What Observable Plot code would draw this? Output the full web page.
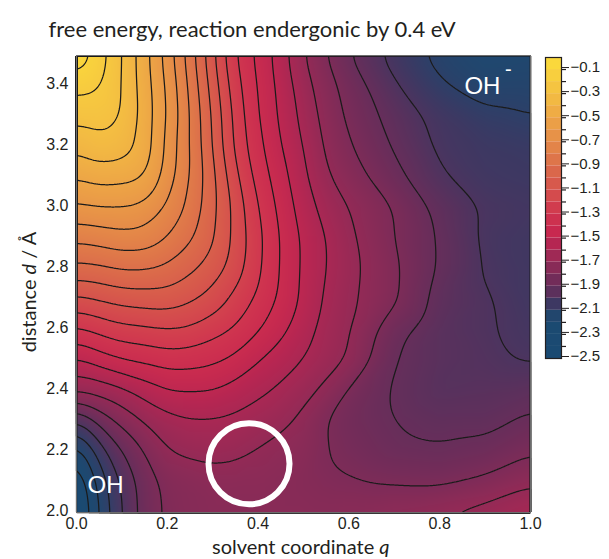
<!DOCTYPE html>
<html><head><meta charset="utf-8">
<script src="https://cdn.jsdelivr.net/npm/d3@7"></script>
<script src="https://cdn.jsdelivr.net/npm/@observablehq/plot@0.6"></script>
<style>
body{margin:0;background:#fff;}
#wrap{position:relative;width:609px;height:559px;overflow:hidden;background:#fff;}
#wrap svg{position:absolute;top:0;}
.lbl{position:absolute;font-family:Lato,"Open Sans",sans-serif;color:#231f20;white-space:nowrap;line-height:1;}
</style></head><body><div id="wrap"></div>
<script>
// solvent coordinate q (columns) and distance d in Å (rows, top to bottom)
const qValues = [0, 0.05, 0.1, 0.15, 0.2, 0.25, 0.3, 0.35, 0.4, 0.45, 0.5, 0.55, 0.6, 0.7, 0.8, 0.9, 1.0];
const dValues = [3.5, 3.4, 3.3, 3.2, 3.1, 3.0, 2.9, 2.8, 2.7, 2.6, 2.5, 2.4, 2.3, 2.2, 2.1, 2.0];
// free energy (eV), one row per d value
const energy = [
  [-0.01,-0.15,-0.30,-0.46,-0.64,-0.85,-1.075,-1.31,-1.425,-1.55,-1.70,-1.80,-1.90,-2.04,-2.13,-2.18,-2.17],
  [-0.17,-0.19,-0.30,-0.45,-0.61,-0.82,-1.04,-1.27,-1.41,-1.53,-1.66,-1.76,-1.84,-1.99,-2.09,-2.14,-2.13],
  [-0.27,-0.26,-0.29,-0.44,-0.60,-0.80,-1.01,-1.24,-1.40,-1.52,-1.63,-1.74,-1.82,-1.94,-2.03,-2.08,-2.10],
  [-0.38,-0.32,-0.35,-0.43,-0.63,-0.80,-1.00,-1.23,-1.37,-1.50,-1.60,-1.72,-1.79,-1.91,-2.02,-2.05,-2.06],
  [-0.50,-0.46,-0.47,-0.49,-0.65,-0.80,-0.97,-1.18,-1.34,-1.46,-1.58,-1.69,-1.75,-1.87,-1.99,-2.04,-2.05],
  [-0.62,-0.60,-0.60,-0.62,-0.72,-0.82,-0.97,-1.13,-1.30,-1.43,-1.55,-1.64,-1.70,-1.80,-1.93,-2.01,-2.03],
  [-0.78,-0.76,-0.73,-0.74,-0.80,-0.88,-0.98,-1.13,-1.27,-1.41,-1.52,-1.60,-1.68,-1.80,-1.91,-2.02,-2.04],
  [-0.93,-0.92,-0.89,-0.89,-0.92,-0.98,-1.04,-1.15,-1.28,-1.41,-1.52,-1.60,-1.67,-1.78,-1.91,-2.01,-2.04],
  [-1.12,-1.09,-1.06,-1.05,-1.04,-1.08,-1.14,-1.23,-1.32,-1.42,-1.52,-1.62,-1.68,-1.78,-1.94,-1.99,-2.04],
  [-1.32,-1.27,-1.23,-1.22,-1.20,-1.21,-1.26,-1.31,-1.39,-1.47,-1.56,-1.64,-1.69,-1.87,-1.96,-1.99,-2.03],
  [-1.52,-1.45,-1.40,-1.38,-1.35,-1.36,-1.38,-1.42,-1.50,-1.55,-1.60,-1.66,-1.70,-1.90,-1.96,-1.98,-2.01],
  [-1.68,-1.67,-1.63,-1.56,-1.50,-1.50,-1.50,-1.54,-1.58,-1.62,-1.67,-1.72,-1.82,-1.91,-1.97,-1.96,-1.94],
  [-2.03,-1.87,-1.77,-1.69,-1.64,-1.61,-1.61,-1.62,-1.65,-1.68,-1.72,-1.81,-1.85,-1.90,-1.93,-1.93,-1.88],
  [-2.29,-2.05,-1.90,-1.80,-1.70,-1.68,-1.67,-1.68,-1.71,-1.73,-1.74,-1.80,-1.83,-1.88,-1.89,-1.87,-1.81],
  [-2.42,-2.16,-1.98,-1.85,-1.77,-1.76,-1.74,-1.74,-1.74,-1.75,-1.76,-1.78,-1.79,-1.81,-1.82,-1.78,-1.72],
  [-2.46,-2.19,-2.00,-1.85,-1.78,-1.76,-1.75,-1.75,-1.75,-1.75,-1.75,-1.75,-1.74,-1.72,-1.69,-1.66,-1.60]
];
const contourLevels = [-2.4,-2.3,-2.2,-2.1,-2.0,-1.9,-1.8,-1.7,-1.6,-1.5,-1.4,-1.3,-1.2,-1.1,-1.0,-0.9,-0.8,-0.7,-0.6,-0.5,-0.4,-0.3,-0.2,-0.1];
const xTicks = [0, 0.2, 0.4, 0.6, 0.8, 1.0];
const yTicks = [2.0, 2.2, 2.4, 2.6, 2.8, 3.0, 3.2, 3.4];
const colorbarLabels = [-0.1,-0.3,-0.5,-0.7,-0.9,-1.1,-1.3,-1.5,-1.7,-1.9,-2.1,-2.3,-2.5];
const colorbarBandTops = [0,-0.1,-0.2,-0.3,-0.4,-0.5,-0.6,-0.7,-0.8,-0.9,-1.0,-1.1,-1.2,-1.3,-1.4,-1.5,-1.6,-1.7,-1.8,-1.9,-2.0,-2.1,-2.2,-2.3,-2.4];
const colorStops = [-2.5,-2.2,-2.12,-2.05,-1.95,-1.85,-1.75,-1.65,-1.55,-1.45,-1.3,-1.1,-0.9,-0.7,-0.5,-0.3,-0.1,0];
const colorRange = ["#1a4a72","#1b4a71","#26436b","#3d3862","#5c305c","#722c59","#882b57","#9f2955","#b52652","#c8284f","#d0354f","#d5524c","#dc6e4a","#e58b48","#eda546","#f4bf42","#f9d43d","#fadc3a"];
const minima = [{name:"OH", q:0.064, d:2.09}, {name:"OH", q:0.894, d:3.40}];
const transitionRegion = [{q:0.38, d:2.16}];

const points = [];
dValues.forEach((d, i) => qValues.forEach((q, j) => points.push({q, d, g: energy[i][j]})));

const colorScale = {type:"linear", domain: colorStops, range: colorRange, interpolate:"rgb"};
const fmt = d3.format(".1f");
const tickFont = "'Liberation Sans', Arial, sans-serif";

const main = Plot.plot({
  width: 609, height: 559,
  marginLeft: 76, marginRight: 79, marginTop: 55, marginBottom: 47,
  style: {fontFamily: tickFont, fontSize: "16px", color: "#231f20", background: "transparent"},
  x: {domain: [0, 1], label: null},
  y: {domain: [2, 3.5], label: null},
  color: colorScale,
  marks: [
    Plot.raster(points, {x: "q", y: "d", fill: "g", interpolate: "barycentric", pixelSize: 1, blur: 10}),
    Plot.contour(points, {x: "q", y: "d", value: "g", interpolate: "barycentric", pixelSize: 1, blur: 10,
      thresholds: contourLevels, fill: "none", stroke: "#1b1b1b", strokeWidth: 1.25}),
    Plot.dot(transitionRegion, {x: "q", y: "d", r: 40.5, stroke: "white", strokeWidth: 6, fill: "none"}),
    Plot.text(minima, {x: "q", y: "d", text: "name", fill: "white", fontSize: 24, fontFamily: tickFont}),
    Plot.text(minima.slice(1), {x: "q", y: "d", text: () => "-", fill: "white", fontSize: 20, dx: 26, dy: -16, fontFamily: tickFont}),
    Plot.frame({stroke: "#6d6d6d"}),
    Plot.axisX(xTicks, {tickSize: 0, tickPadding: 5, tickFormat: fmt, fontSize: 16}),
    Plot.axisY(yTicks, {tickSize: 0, tickPadding: 8, tickFormat: fmt, fontSize: 16, dy: -2})
  ]
});
main.style.left = "0px";
document.getElementById("wrap").appendChild(main);

const bands = colorbarBandTops.map(t => ({hi: t, lo: +(t - 0.1).toFixed(1), mid: t - 0.05}));
const bar = Plot.plot({
  width: 79, height: 559,
  marginLeft: 15, marginRight: 48, marginTop: 57, marginBottom: 201,
  style: {fontFamily: tickFont, fontSize: "15px", color: "#231f20", background: "transparent"},
  y: {domain: [-2.5, 0], label: null},
  color: colorScale,
  marks: [
    Plot.rect(bands, {y1: "lo", y2: "hi", fill: "mid"}),
    Plot.axisY(colorbarBandTops.slice(1), {anchor: "right", tickSize: 4, tickFormat: () => "", strokeWidth: 1.2}),
    Plot.axisY(colorbarLabels, {anchor: "right", tickSize: 7, tickPadding: 2, tickFormat: fmt, fontSize: 15, dy: -2}),
    Plot.frame({stroke: "#231f20", strokeWidth: 1.2})
  ]
});
bar.style.left = "530px";
document.getElementById("wrap").appendChild(bar);

// titles
const wrap = document.getElementById("wrap");
function addLabel(html, css) {
  const el = document.createElement("div");
  el.className = "lbl";
  el.innerHTML = html;
  Object.assign(el.style, css);
  wrap.appendChild(el);
  return el;
}
const t = addLabel("free energy, reaction endergonic by 0.4 eV", {fontSize: "22px", top: "18px", left: "0px"});
t.style.left = (252 - t.offsetWidth / 2) + "px";
const xl = addLabel("solvent coordinate <i>q</i>", {fontSize: "20px", top: "536px", left: "0px"});
xl.style.left = (301 - xl.offsetWidth / 2) + "px";
const yl = addLabel("distance <i>d</i> / Å", {fontSize: "20px", top: "0px", left: "0px"});
const w = yl.offsetWidth, h = yl.offsetHeight;
yl.style.left = (28 - w / 2) + "px";
yl.style.top = (292 - h / 2) + "px";
yl.style.transform = "rotate(-90deg)";
</script>
</body></html>
